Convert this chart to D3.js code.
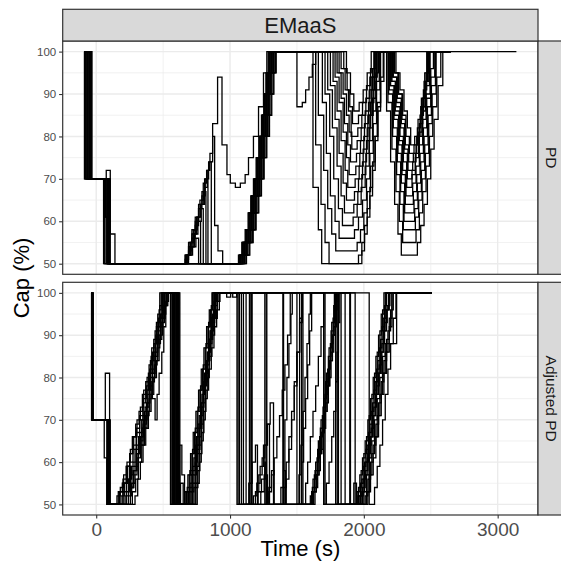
<!DOCTYPE html>
<html>
<head>
<meta charset="utf-8">
<script src="https://cdn.jsdelivr.net/npm/d3@7"></script>
<style>
  body { margin: 0; background: #fff; }
  svg { display: block; font-family: "Liberation Sans", Arial, Helvetica, sans-serif; }
</style>
</head>
<body>
<svg id="chart" width="561" height="563"></svg>
<script>
// facet labels and ticks
const facetTitle = "EMaaS";
const rowLabels = ["PD", "Adjusted PD"];
const xTicks = [0, 1000, 2000, 3000];
const xMinor = [500, 1500, 2500];
const yTicks = [50, 60, 70, 80, 90, 100];
const yMinor = [55, 65, 75, 85, 95];

// PD runs: [time (s), cap (%)] change points
const pd01 = [[-89,100],[-85,70],[60,50],[1063,52],[1088,55],[1113,58],[1135,62],[1155,66],[1175,70],[1195,75],[1215,80],[1235,85],[1252,90],[1268,95],[1285,100],[1620,68],[1660,58],[1685,50],[1960,52],[1985,55],[2005,59],[2025,63],[2045,68],[2065,74],[2085,80],[2105,87],[2125,94],[2145,100],[2180,88],[2210,77],[2240,67],[2265,60],[2290,55],[2390,58],[2415,62],[2440,67],[2465,73],[2490,80],[2515,87],[2545,94],[2575,100],[2650,100]];
const pd02 = [[-89,100],[-75,70],[70,61],[85,50],[1068,52],[1093,55],[1118,58],[1140,62],[1160,66],[1180,70],[1200,75],[1220,80],[1240,85],[1257,90],[1273,95],[1290,100],[1640,78],[1680,64],[1710,55],[1740,50],[1985,53],[2005,57],[2025,61],[2045,66],[2065,72],[2085,79],[2105,86],[2125,93],[2150,100],[2170,86],[2200,74],[2230,64],[2255,57],[2280,52],[2400,55],[2425,59],[2450,64],[2475,70],[2500,77],[2525,84],[2555,92],[2590,100],[2650,100]];
const pd03 = [[-89,100],[-65,70],[75,72],[105,57],[140,50],[690,52],[720,54],[745,56],[765,50],[1073,52],[1098,55],[1123,58],[1145,62],[1165,66],[1185,70],[1205,75],[1225,80],[1245,85],[1262,90],[1278,95],[1295,100],[1660,85],[1700,72],[1730,63],[1760,57],[1790,53],[1950,55],[1975,58],[2000,62],[2025,67],[2050,73],[2075,80],[2100,88],[2125,100],[2190,91],[2220,82],[2250,74],[2275,67],[2300,60],[2380,63],[2405,67],[2430,72],[2455,78],[2480,85],[2505,92],[2535,100],[2640,100]];
const pd04 = [[-89,100],[-55,70],[80,50],[670,52],[700,54],[725,57],[750,60],[780,50],[1078,52],[1103,55],[1128,58],[1150,62],[1170,66],[1190,70],[1210,75],[1230,80],[1250,85],[1267,90],[1283,95],[1300,100],[1690,88],[1720,76],[1750,66],[1785,60],[1815,56],[1930,58],[1960,61],[1990,65],[2020,70],[2045,76],[2070,83],[2095,91],[2120,100],[2185,90],[2215,80],[2245,71],[2270,64],[2295,58],[2385,61],[2410,65],[2435,70],[2460,76],[2485,83],[2510,90],[2540,100],[2630,100]];
const pd05 = [[-89,100],[-45,70],[90,50],[665,51],[690,53],[715,56],[740,59],[765,63],[800,50],[1083,52],[1108,55],[1133,58],[1155,62],[1175,66],[1195,70],[1215,75],[1235,80],[1255,85],[1272,90],[1288,95],[1305,100],[1710,90],[1745,80],[1775,70],[1810,63],[1840,59],[1920,61],[1950,64],[1980,68],[2010,73],[2040,79],[2065,86],[2090,93],[2115,100],[2200,92],[2230,85],[2260,78],[2285,71],[2310,64],[2370,67],[2395,71],[2420,76],[2445,82],[2470,89],[2500,96],[2520,100],[2620,100]];
const pd06 = [[-89,100],[-38,70],[95,50],[680,52],[705,55],[730,58],[755,61],[780,64],[800,67],[820,50],[1088,52],[1113,55],[1138,58],[1160,62],[1180,66],[1200,70],[1220,75],[1240,80],[1260,85],[1277,90],[1293,95],[1310,100],[1730,91],[1765,82],[1800,73],[1830,66],[1855,62],[1925,64],[1955,67],[1985,71],[2015,76],[2040,82],[2065,89],[2090,95],[2110,100],[2195,92],[2225,84],[2255,76],[2280,69],[2305,62],[2375,65],[2400,69],[2425,74],[2450,80],[2475,87],[2500,94],[2530,100],[2650,100]];
const pd07 = [[-89,100],[-32,70],[100,50],[665,52],[690,55],[715,58],[740,61],[765,64],[790,67],[810,70],[835,50],[1093,52],[1118,55],[1143,58],[1165,62],[1185,66],[1205,70],[1225,75],[1245,80],[1265,85],[1282,90],[1298,95],[1315,100],[1750,92],[1785,84],[1815,76],[1845,69],[1870,65],[1930,67],[1960,70],[1990,74],[2020,79],[2045,85],[2070,91],[2095,100],[2210,93],[2240,87],[2270,80],[2295,74],[2320,68],[2360,71],[2385,75],[2410,80],[2435,86],[2460,92],[2490,100],[2650,100]];
const pd08 = [[-89,100],[-80,70],[65,50],[675,52],[700,55],[725,58],[750,61],[775,65],[800,69],[825,72],[845,74],[860,50],[1098,52],[1123,55],[1148,58],[1170,62],[1190,66],[1210,70],[1230,75],[1250,80],[1270,85],[1287,90],[1303,95],[1320,100],[1770,93],[1800,86],[1830,79],[1860,72],[1880,68],[1935,70],[1965,73],[1995,77],[2025,82],[2050,88],[2075,94],[2100,100],[2205,93],[2235,86],[2265,79],[2290,72],[2315,66],[2365,69],[2390,73],[2415,78],[2440,84],[2465,90],[2495,100],[2650,100]];
const pd09 = [[-89,100],[-70,70],[85,50],[685,52],[710,54],[735,57],[760,60],[785,64],[810,68],[830,72],[850,76],[870,80],[885,59],[910,53],[945,50],[1103,52],[1128,55],[1153,58],[1175,62],[1195,66],[1215,70],[1235,75],[1255,80],[1275,85],[1292,90],[1308,95],[1325,100],[1785,94],[1815,88],[1845,81],[1870,75],[1890,71],[1940,73],[1970,76],[2000,80],[2030,85],[2055,91],[2080,100],[2220,94],[2250,89],[2280,83],[2305,77],[2330,72],[2365,74],[2390,78],[2415,83],[2440,89],[2465,95],[2485,100],[2650,100]];
const pd10 = [[-89,100],[-60,70],[75,50],[665,52],[690,54],[715,57],[740,60],[765,63],[790,66],[815,70],[840,74],[870,83],[907,94],[940,78],[977,71],[1002,69],[1040,68],[1077,69],[1113,71],[1138,75],[1175,80],[1213,87],[1250,95],[1275,100],[1800,95],[1830,89],[1855,83],[1880,78],[1900,74],[1945,76],[1975,79],[2005,83],[2035,88],[2060,94],[2085,100],[2215,94],[2245,88],[2275,82],[2300,76],[2325,70],[2360,72],[2385,76],[2410,81],[2435,87],[2460,93],[2485,100],[2650,100]];
const pd11 = [[-89,100],[-50,70],[95,50],[1108,52],[1133,55],[1158,58],[1180,62],[1200,66],[1220,70],[1240,75],[1260,80],[1280,85],[1297,90],[1313,95],[1330,100],[1815,95],[1845,90],[1870,85],[1890,81],[1910,77],[1950,79],[1980,82],[2010,86],[2040,91],[2065,96],[2090,100],[2230,95],[2260,90],[2290,85],[2315,80],[2340,76],[2375,78],[2400,82],[2425,87],[2450,93],[2475,100],[2650,100]];
const pd12 = [[-89,100],[-42,70],[105,50],[1118,52],[1143,55],[1168,58],[1190,62],[1210,66],[1230,70],[1250,75],[1270,80],[1290,85],[1307,90],[1323,95],[1340,100],[1830,96],[1860,91],[1885,86],[1905,80],[1955,82],[1985,85],[2015,89],[2045,94],[2075,100],[2225,95],[2255,90],[2285,84],[2310,78],[2335,74],[2370,76],[2395,80],[2420,85],[2445,91],[2470,100],[2650,100]];
const pd13 = [[-89,100],[-35,70],[60,61],[85,50],[1123,52],[1148,55],[1173,58],[1195,62],[1215,66],[1235,70],[1255,75],[1275,80],[1295,85],[1312,90],[1328,95],[1345,100],[1850,96],[1875,91],[1895,87],[1915,83],[1960,85],[1990,88],[2020,92],[2050,96],[2080,100],[2240,95],[2270,91],[2300,86],[2325,82],[2350,78],[2380,80],[2405,84],[2430,89],[2455,95],[2480,100],[2650,100]];
const pd14 = [[-89,100],[-88,70],[55,50],[1071,52],[1096,55],[1121,58],[1143,62],[1163,66],[1183,70],[1203,75],[1223,80],[1243,85],[1260,90],[1276,95],[1293,100],[1500,87],[1540,88],[1565,91],[1590,94],[1615,97],[1640,100],[1870,95],[1900,90],[1925,86],[1965,88],[1995,91],[2025,95],[2055,100],[3140,100]];

// Adjusted PD runs
const adj01 = [[-37,100],[-35,70],[80,50],[155,52],[180,54],[205,57],[230,60],[255,63],[280,66],[305,70],[330,73],[355,77],[380,80],[405,84],[430,88],[450,92],[470,96],[485,100],[560,50],[665,53],[685,57],[705,62],[725,67],[745,72],[765,77],[785,82],[805,87],[825,92],[845,96],[865,100],[1052,50],[1175,52],[1200,55],[1225,59],[1250,64],[1275,69],[1300,74],[1325,50],[1610,53],[1630,57],[1650,61],[1670,66],[1690,71],[1710,76],[1730,82],[1750,88],[1770,94],[1785,100],[1790,50],[1950,53],[1970,57],[1990,61],[2010,65],[2030,70],[2050,75],[2070,80],[2090,85],[2110,90],[2130,95],[2150,100],[2507,100]];
const adj02 = [[-37,100],[-32,70],[68,81],[100,50],[165,53],[195,55],[225,59],[250,62],[275,64],[300,68],[325,71],[350,75],[375,78],[400,82],[420,86],[445,90],[465,94],[490,100],[570,50],[680,54],[700,58],[720,63],[740,68],[760,73],[780,78],[800,83],[820,88],[840,93],[860,97],[880,100],[1060,50],[1190,53],[1215,57],[1240,61],[1260,64],[1280,69],[1295,50],[1400,54],[1420,60],[1440,66],[1460,72],[1480,79],[1500,86],[1520,93],[1540,100],[1700,50],[1965,52],[1985,56],[2005,60],[2025,64],[2045,69],[2065,74],[2085,79],[2105,84],[2125,89],[2145,94],[2165,100],[2507,100]];
const adj03 = [[-37,100],[-30,70],[85,50],[185,52],[210,55],[235,59],[260,54],[280,58],[305,62],[330,66],[355,70],[380,74],[400,78],[420,82],[440,86],[460,90],[480,95],[500,100],[578,50],[690,53],[710,57],[730,61],[750,66],[770,71],[790,76],[810,81],[830,86],[850,91],[870,95],[890,100],[975,99],[1005,100],[1070,50],[1140,55],[1165,60],[1190,64],[1205,50],[1615,54],[1635,58],[1655,63],[1675,68],[1695,73],[1715,79],[1735,85],[1755,91],[1775,97],[1795,100],[1810,50],[1960,54],[1980,58],[2000,62],[2020,66],[2040,71],[2060,76],[2080,81],[2100,86],[2120,91],[2140,96],[2160,100],[2507,100]];
const adj04 = [[-37,100],[-28,70],[90,50],[200,53],[225,56],[250,60],[275,63],[300,67],[325,70],[350,74],[370,77],[390,81],[410,85],[430,89],[450,93],[475,97],[495,100],[585,50],[700,54],[720,58],[740,63],[760,68],[780,73],[800,79],[820,84],[840,89],[860,94],[880,98],[900,100],[1085,50],[1150,100],[1270,50],[1290,53],[1310,57],[1330,61],[1350,66],[1370,71],[1390,77],[1410,83],[1430,90],[1450,100],[1710,50],[1985,53],[2005,57],[2025,61],[2045,66],[2065,71],[2085,76],[2105,81],[2125,86],[2145,91],[2165,96],[2185,100],[2507,100]];
const adj05 = [[-37,100],[-25,70],[60,61],[80,50],[215,52],[240,56],[265,59],[290,63],[315,66],[340,70],[365,73],[385,77],[405,81],[425,85],[445,88],[465,92],[485,95],[505,100],[595,50],[710,53],[730,57],[750,62],[770,66],[785,71],[800,76],[815,81],[835,86],[855,91],[875,96],[895,100],[1020,99],[1050,100],[1100,50],[1210,53],[1235,56],[1260,60],[1270,50],[1600,52],[1620,56],[1640,60],[1660,65],[1680,70],[1700,75],[1720,81],[1740,87],[1760,93],[1780,100],[1830,50],[1975,52],[1995,56],[2015,60],[2035,64],[2055,68],[2075,73],[2095,78],[2115,83],[2135,88],[2155,93],[2175,97],[2195,100],[2507,100]];
const adj06 = [[-37,100],[-22,70],[95,50],[225,53],[250,57],[275,60],[300,64],[325,67],[350,71],[375,74],[400,78],[420,75],[440,70],[455,76],[470,81],[490,86],[505,92],[520,100],[600,50],[720,55],[740,60],[755,64],[770,69],[785,74],[800,79],[820,84],[840,89],[860,94],[885,100],[1120,50],[1290,54],[1310,58],[1330,50],[1380,54],[1400,58],[1415,50],[1625,53],[1645,57],[1665,62],[1685,67],[1705,72],[1725,78],[1745,84],[1765,90],[1785,96],[1800,100],[1860,50],[1990,54],[2010,58],[2030,62],[2050,66],[2070,71],[2090,76],[2110,81],[2130,86],[2150,91],[2170,96],[2190,100],[2507,100]];
const adj07 = [[-37,100],[-33,70],[100,50],[240,52],[265,55],[290,59],[315,64],[340,68],[360,72],[380,76],[400,80],[420,84],[440,88],[460,91],[480,94],[500,97],[525,100],[608,50],[730,54],[745,59],[760,63],[775,68],[790,73],[805,78],[825,83],[845,88],[865,93],[885,97],[905,100],[1145,50],[1160,100],[1400,50],[1420,56],[1440,63],[1460,70],[1480,78],[1500,86],[1520,94],[1540,100],[1545,50],[1565,55],[1580,60],[1600,66],[1620,72],[1640,78],[1660,85],[1680,92],[1700,100],[1895,50],[2000,53],[2020,57],[2040,61],[2060,65],[2080,70],[2100,75],[2120,80],[2140,85],[2160,88],[2245,100],[2507,100]];
const adj08 = [[-37,100],[-29,70],[105,50],[255,54],[280,57],[305,61],[330,64],[350,68],[370,71],[395,75],[415,79],[435,83],[455,87],[475,90],[495,94],[515,97],[535,100],[615,50],[740,55],[755,59],[770,64],[785,69],[800,74],[815,79],[830,84],[850,89],[870,94],[890,98],[910,100],[1165,50],[1230,53],[1255,57],[1280,50],[1635,54],[1655,58],[1675,63],[1695,68],[1715,74],[1735,80],[1755,86],[1775,92],[1795,98],[1810,100],[1935,50],[2010,52],[2030,56],[2050,60],[2070,64],[2090,69],[2110,74],[2130,79],[2150,84],[2170,89],[2190,94],[2210,100],[2507,100]];
const adj09 = [[-37,100],[-27,70],[88,50],[270,53],[295,56],[315,60],[340,64],[360,68],[380,72],[400,76],[420,80],[440,84],[460,88],[480,92],[500,95],[520,98],[540,100],[620,50],[745,54],[760,58],[775,62],[790,67],[805,72],[820,77],[840,82],[860,87],[880,92],[900,96],[920,100],[1260,50],[1275,100],[1520,50],[1535,60],[1550,68],[1565,75],[1580,83],[1595,91],[1610,100],[1790,50],[1955,52],[1975,55],[1995,59],[2015,63],[2035,67],[2055,72],[2075,77],[2095,82],[2115,87],[2135,92],[2155,97],[2170,100],[2507,100]];
const adj10 = [[-37,100],[-31,70],[92,50],[290,52],[310,56],[330,60],[350,64],[370,68],[390,72],[410,76],[430,80],[450,84],[470,89],[490,93],[510,97],[530,100],[625,50],[755,55],[770,60],[785,65],[800,70],[815,75],[830,80],[845,85],[865,90],[885,94],[905,98],[925,100],[1395,50],[1410,70],[1425,80],[1440,88],[1455,95],[1465,100],[1700,50],[1720,55],[1740,60],[1760,66],[1775,72],[1790,79],[1800,86],[1810,93],[1820,100],[1900,50],[2020,53],[2040,57],[2060,62],[2080,66],[2100,71],[2120,76],[2140,81],[2160,86],[2180,91],[2200,96],[2220,100],[2507,100]];
const adj11 = [[-37,100],[-26,70],[98,50],[200,55],[230,59],[255,54],[275,58],[300,62],[325,65],[350,69],[375,73],[395,77],[420,81],[440,85],[460,89],[480,93],[495,97],[510,100],[590,50],[625,64],[640,57],[660,50],[700,55],[720,59],[740,64],[760,69],[780,74],[800,79],[820,84],[840,89],[860,94],[880,100],[1500,50],[1515,57],[1530,64],[1545,72],[1560,80],[1575,88],[1590,95],[1600,100],[2040,50],[2080,54],[2100,59],[2120,64],[2140,70],[2160,76],[2180,82],[2200,88],[2220,94],[2240,100],[2507,100]];
const adj12 = [[-37,100],[-34,70],[82,50],[175,53],[200,56],[225,59],[250,62],[270,66],[295,69],[320,72],[345,76],[370,79],[395,83],[415,87],[440,91],[460,95],[475,100],[555,50],[630,55],[650,50],[675,53],[695,57],[715,62],[735,67],[755,72],[775,77],[795,82],[815,87],[835,92],[855,96],[870,100],[1535,50],[1620,53],[1645,57],[1665,62],[1685,67],[1705,72],[1725,78],[1745,84],[1765,90],[1785,100],[1805,50],[1925,55],[1945,50],[2030,53],[2050,57],[2070,61],[2090,66],[2110,71],[2130,76],[2150,81],[2170,86],[2190,92],[2210,100],[2507,100]];

const pdRuns = [pd01, pd02, pd03, pd04, pd05, pd06, pd07, pd08, pd09, pd10, pd11, pd12, pd13, pd14];
const adjRuns = [adj01, adj02, adj03, adj04, adj05, adj06, adj07, adj08, adj09, adj10, adj11, adj12];

// layout
const panelLeft = 62.7;
const panelRight = 538;
const stripTop = 9.3;
const panelRows = [
  { label: rowLabels[0], runs: pdRuns, top: 41, bottom: 274.3 },
  { label: rowLabels[1], runs: adjRuns, top: 282.3, bottom: 515 }
];

const svg = d3.select("#chart");

// x scale with ggplot style 5% expansion
const allT = pdRuns.concat(adjRuns).flat().map((d) => d[0]);
const tMin = d3.min(allT), tMax = d3.max(allT);
const tPad = (tMax - tMin) * 0.05;
const x = d3.scaleLinear()
  .domain([tMin - tPad, tMax + tPad])
  .range([panelLeft, panelRight]);

const gridColor = "#EBEBEB";
const borderColor = "#333333";

panelRows.forEach((row, i) => {
  const y = d3.scaleLinear().domain([47.5, 102.5]).range([row.bottom, row.top]);
  const g = svg.append("g");

  g.append("rect")
    .attr("x", panelLeft).attr("y", row.top)
    .attr("width", panelRight - panelLeft).attr("height", row.bottom - row.top)
    .attr("fill", "#fff");

  // minor grid
  g.selectAll(".xminor").data(xMinor).enter().append("line")
    .attr("x1", (d) => x(d)).attr("x2", (d) => x(d))
    .attr("y1", row.top).attr("y2", row.bottom)
    .attr("stroke", gridColor).attr("stroke-width", 0.7);
  g.selectAll(".yminor").data(yMinor).enter().append("line")
    .attr("x1", panelLeft).attr("x2", panelRight)
    .attr("y1", (d) => y(d)).attr("y2", (d) => y(d))
    .attr("stroke", gridColor).attr("stroke-width", 0.7);
  // major grid
  g.selectAll(".xmajor").data(xTicks).enter().append("line")
    .attr("x1", (d) => x(d)).attr("x2", (d) => x(d))
    .attr("y1", row.top).attr("y2", row.bottom)
    .attr("stroke", gridColor).attr("stroke-width", 1.4);
  g.selectAll(".ymajor").data(yTicks).enter().append("line")
    .attr("x1", panelLeft).attr("x2", panelRight)
    .attr("y1", (d) => y(d)).attr("y2", (d) => y(d))
    .attr("stroke", gridColor).attr("stroke-width", 1.4);

  // step lines
  const line = d3.line()
    .x((d) => x(d[0]))
    .y((d) => y(d[1]))
    .curve(d3.curveStepAfter);
  g.selectAll(".run").data(row.runs).enter().append("path")
    .attr("d", line)
    .attr("fill", "none")
    .attr("stroke", "#000")
    .attr("stroke-width", 1.3);

  // panel border
  g.append("rect")
    .attr("x", panelLeft).attr("y", row.top)
    .attr("width", panelRight - panelLeft).attr("height", row.bottom - row.top)
    .attr("fill", "none").attr("stroke", borderColor).attr("stroke-width", 1.2);

  // y axis
  const yAxis = svg.append("g")
    .attr("transform", "translate(" + panelLeft + ",0)")
    .call(d3.axisLeft(y).tickValues(yTicks).tickSize(3.6).tickPadding(2.9));
  yAxis.select(".domain").remove();
  yAxis.selectAll("line").attr("stroke", borderColor).attr("stroke-width", 1.1);
  yAxis.selectAll("text")
    .attr("fill", "#4D4D4D")
    .style("font-size", "11.5px")
    .style("font-family", "'Liberation Sans', Arial, sans-serif");

  // right strip
  svg.append("rect")
    .attr("x", panelRight).attr("y", row.top)
    .attr("width", 28).attr("height", row.bottom - row.top)
    .attr("fill", "#D9D9D9").attr("stroke", borderColor).attr("stroke-width", 1.2);
  svg.append("text")
    .attr("transform", "translate(551," + (row.top + row.bottom) / 2 + ") rotate(90)")
    .attr("text-anchor", "middle")
    .attr("dy", "0.35em")
    .attr("fill", "#1A1A1A")
    .style("font-size", "15.5px")
    .text(row.label);

  if (i === panelRows.length - 1) {
    const xAxis = svg.append("g")
      .attr("transform", "translate(0," + row.bottom + ")")
      .call(d3.axisBottom(x).tickValues(xTicks).tickFormat(d3.format("d")).tickSize(3.6).tickPadding(2.9));
    xAxis.select(".domain").remove();
    xAxis.selectAll("line").attr("stroke", borderColor).attr("stroke-width", 1.1);
    xAxis.selectAll("text")
      .attr("fill", "#4D4D4D")
      .attr("dy", "0.74em")
      .style("font-size", "19px")
      .style("font-family", "'Liberation Sans', Arial, sans-serif");
  }
});

// top strip
svg.append("rect")
  .attr("x", panelLeft).attr("y", stripTop)
  .attr("width", panelRight - panelLeft).attr("height", panelRows[0].top - stripTop)
  .attr("fill", "#D9D9D9").attr("stroke", borderColor).attr("stroke-width", 1.2);
svg.append("text")
  .attr("x", (panelLeft + panelRight) / 2)
  .attr("y", (stripTop + panelRows[0].top) / 2)
  .attr("dy", "0.36em")
  .attr("text-anchor", "middle")
  .attr("fill", "#1A1A1A")
  .style("font-size", "22px")
  .text(facetTitle);

// axis titles
svg.append("text")
  .attr("x", (panelLeft + panelRight) / 2)
  .attr("y", 556)
  .attr("text-anchor", "middle")
  .attr("fill", "#000")
  .style("font-size", "22px")
  .text("Time (s)");
svg.append("text")
  .attr("transform", "translate(29," + (panelRows[0].top + panelRows[1].bottom) / 2 + ") rotate(-90)")
  .attr("text-anchor", "middle")
  .attr("fill", "#000")
  .style("font-size", "22px")
  .text("Cap (%)");
</script>
</body>
</html>
